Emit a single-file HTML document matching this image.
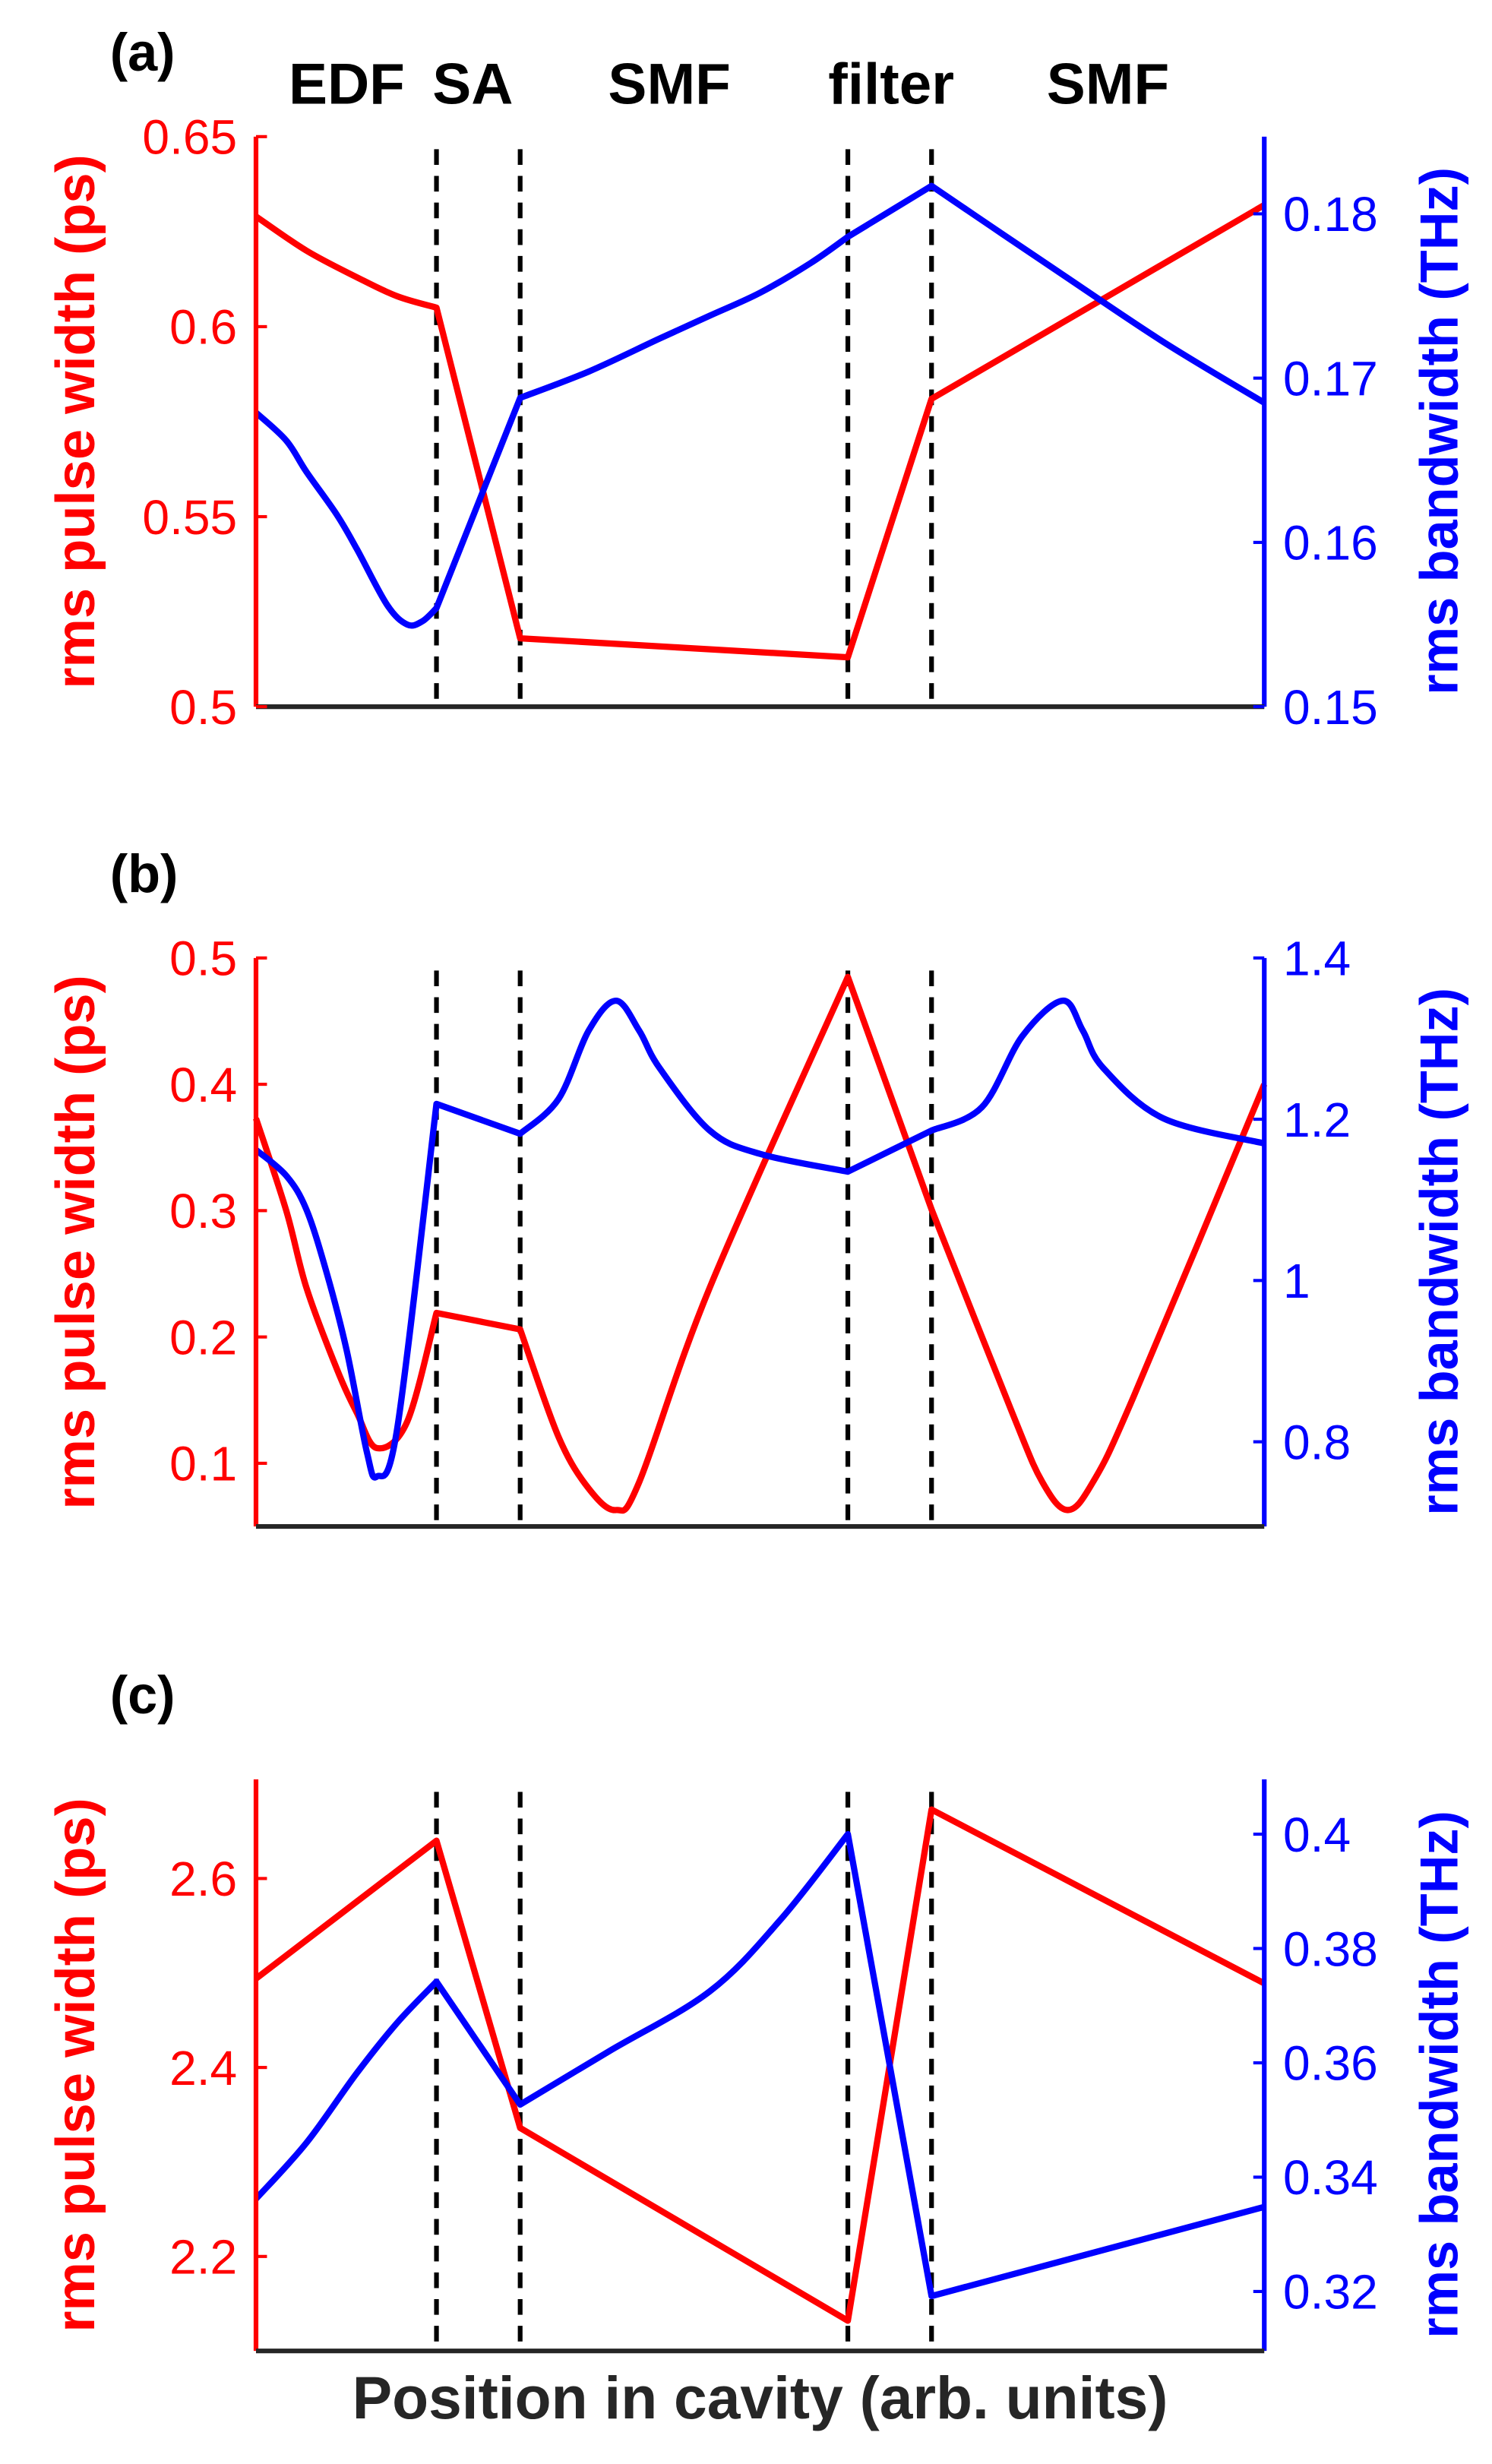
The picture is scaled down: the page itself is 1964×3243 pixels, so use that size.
<!DOCTYPE html>
<html><head><meta charset="utf-8"><style>
html,body{margin:0;padding:0;background:#fff;}
svg{display:block;font-family:"Liberation Sans",Arial,sans-serif;}
</style></head><body>
<svg id="fig" width="1964" height="3243" viewBox="0 0 950 1569" preserveAspectRatio="none" xmlns="http://www.w3.org/2000/svg"></svg>
<script>
// ---- data ----
const sectionLabels = ["EDF","SA","SMF","filter","SMF"];
const sectionLabelX = [0.09,0.215,0.41,0.63,0.845];
const boundaries = [0.179,0.262,0.587,0.670];

const aRedX = [0,0.05,0.1,0.14,0.179,0.262,0.587,0.670,1.0];
const aRedY = [0.629,0.620,0.613,0.608,0.605,0.518,0.513,0.581,0.632];
const aBlueX = [0,0.03,0.05,0.08,0.1,0.13,0.15,0.165,0.179,0.262,0.33,0.4,0.45,0.5,0.55,0.587,0.670,0.73,0.8,0.9,1.0];
const aBlueY = [0.1679,0.1662,0.1643,0.1617,0.1596,0.1562,0.155,0.1552,0.156,0.1688,0.1704,0.1724,0.1738,0.1752,0.1770,0.1786,0.1817,0.1792,0.1763,0.1722,0.1685];

const bRedX = [0,0.03,0.05,0.08,0.1,0.12,0.15,0.179,0.262,0.3,0.33,0.357,0.38,0.45,0.587,0.670,0.75,0.78,0.805,0.83,0.87,1.0];
const bRedY = [0.373,0.30,0.239,0.175,0.14,0.112,0.133,0.219,0.206,0.121,0.08,0.063,0.085,0.239,0.485,0.301,0.14,0.085,0.063,0.085,0.152,0.40];
const bBlueX = [0,0.03,0.05,0.07,0.09,0.11,0.12,0.14,0.179,0.262,0.3,0.33,0.357,0.38,0.4,0.45,0.5,0.587,0.670,0.72,0.76,0.8,0.82,0.84,0.9,1.0];
const bBlueY = [1.162,1.13,1.088,1.01,0.913,0.787,0.757,0.816,1.219,1.182,1.225,1.31,1.347,1.31,1.264,1.186,1.157,1.135,1.186,1.215,1.303,1.347,1.31,1.264,1.201,1.170];

const cRedX = [0,0.179,0.262,0.587,0.670,1.0];
const cRedY = [2.494,2.640,2.336,2.132,2.673,2.489];
const cBlueX = [0,0.05,0.1,0.14,0.179,0.262,0.35,0.45,0.52,0.587,0.670,1.0];
const cBlueY = [0.3362,0.346,0.3582,0.367,0.3742,0.3527,0.362,0.3725,0.385,0.400,0.3192,0.3348];

const aLeftTicks=[0.5,0.55,0.6,0.65], aRightTicks=[0.15,0.16,0.17,0.18];
const bLeftTicks=[0.1,0.2,0.3,0.4,0.5], bRightTicks=[0.8,1,1.2,1.4];
const cLeftTicks=[2.2,2.4,2.6], cRightTicks=[0.32,0.34,0.36,0.38,0.4];

const NS="http://www.w3.org/2000/svg";
const svg=document.getElementById('fig');
function el(tag,attrs,parent){const e=document.createElementNS(NS,tag);for(const k in attrs)e.setAttribute(k,attrs[k]);(parent||svg).appendChild(e);return e;}
const X0=163,X1=805;
const xs=v=>X0+v*(X1-X0);
const isB=x=>boundaries.some(b=>Math.abs(b-x)<1e-6);

function smoothPath(rawX,px,py){
  const pts=px.map((x,i)=>[x,py[i]]);
  const segs=[];let cur=[pts[0]];
  for(let i=1;i<pts.length;i++){cur.push(pts[i]);if(isB(rawX[i])&&i<pts.length-1){segs.push(cur);cur=[pts[i]];}}
  segs.push(cur);
  let d='M'+pts[0][0]+','+pts[0][1];
  segs.forEach(s=>{
    for(let i=0;i<s.length-1;i++){
      const p0=s[i-1]||s[i],p1=s[i],p2=s[i+1],p3=s[i+2]||s[i+1];
      const c1=[p1[0]+(p2[0]-p0[0])/6,p1[1]+(p2[1]-p0[1])/6];
      const c2=[p2[0]-(p3[0]-p1[0])/6,p2[1]-(p3[1]-p1[1])/6];
      d+=` C${c1[0]},${c1[1]} ${c2[0]},${c2[1]} ${p2[0]},${p2[1]}`;
    }
  });
  return d;
}

function panel(id,top,bot,lMin,lMax,rMin,rMax,lTicks,rTicks,rx,ry,bx,by,label,showSections){
  const g=el('g',{});
  
  
  const yl=v=>bot-(v-lMin)/(lMax-lMin)*(bot-top);
  const yr=v=>bot-(v-rMin)/(rMax-rMin)*(bot-top);
  boundaries.forEach((b,i)=>{
    const l=el('line',{x1:xs(b),x2:xs(b),y1:top+8,y2:bot,stroke:'#000','stroke-width':3,'stroke-dasharray':'10,7'},g);
    
    
  });
  const rp=el('path',{d:smoothPath(rx,rx.map(xs),ry.map(yl)),fill:'none',stroke:'#ff0000','stroke-width':4,'stroke-linejoin':'round'},g);
  
  
  const bp=el('path',{d:smoothPath(bx,bx.map(xs),by.map(yr)),fill:'none',stroke:'#0000ff','stroke-width':4,'stroke-linejoin':'round'},g);
  
  
  el('line',{x1:X0,x2:X0,y1:top,y2:bot,stroke:'#ff0000','stroke-width':3},g);
  el('line',{x1:X1,x2:X1,y1:top,y2:bot,stroke:'#0000ff','stroke-width':3},g);
  const xa=el('line',{x1:X0,x2:X1,y1:bot,y2:bot,stroke:'#262626','stroke-width':3},g);
  
  
  lTicks.forEach(t=>{
    el('line',{x1:X0,x2:X0+7,y1:yl(t),y2:yl(t),stroke:'#ff0000','stroke-width':2},g);
    const tx=el('text',{x:X0-12,y:yl(t)+11,'text-anchor':'end','font-size':31,fill:'#ff0000'},g);
    tx.textContent=String(t);
    
    
  });
  rTicks.forEach(t=>{
    el('line',{x1:X1-7,x2:X1,y1:yr(t),y2:yr(t),stroke:'#0000ff','stroke-width':2},g);
    const tx=el('text',{x:X1+12,y:yr(t)+11,'text-anchor':'start','font-size':31,fill:'#0000ff'},g);
    tx.textContent=String(t);
    
    
  });
  const mid=(top+bot)/2;
  const lt=el('text',{x:0,y:0,transform:`translate(60,${mid}) rotate(-90)`,'text-anchor':'middle','font-size':35,'font-weight':'bold',fill:'#ff0000'},g);
  lt.textContent='rms pulse width (ps)';
  
  
  const rt=el('text',{x:0,y:0,transform:`translate(928,${mid+6}) rotate(-90)`,'text-anchor':'middle','font-size':34,'font-weight':'bold',fill:'#0000ff'},g);
  rt.textContent='rms bandwidth (THz)';
  
  
  const pl=el('text',{x:70,y:top-42,'font-size':34,'font-weight':'bold',fill:'#000'},g);
  pl.textContent=label;
  
  
  if(showSections){
    sectionLabels.forEach((s,i)=>{
      const t=el('text',{x:xs(sectionLabelX[i]),y:66,'text-anchor':'middle','font-size':37,'font-weight':'bold',fill:'#000'},g);
      t.textContent=s;
      
      
    });
  }
}
panel('a',87,450,0.5,0.65,0.15,0.1847,aLeftTicks,aRightTicks,aRedX,aRedY,aBlueX,aBlueY,'(a)',true);
panel('b',610,972,0.05,0.5,0.695,1.4,bLeftTicks,bRightTicks,bRedX,bRedY,bBlueX,bBlueY,'(b)',false);
panel('c',1133,1497,2.1,2.705,0.3096,0.4096,cLeftTicks,cRightTicks,cRedX,cRedY,cBlueX,cBlueY,'(c)',false);
const xt=el('text',{x:484,y:1540,'text-anchor':'middle','font-size':38,'font-weight':'bold',fill:'#262626'});
xt.textContent='Position in cavity (arb. units)';


</script>
</body></html>
